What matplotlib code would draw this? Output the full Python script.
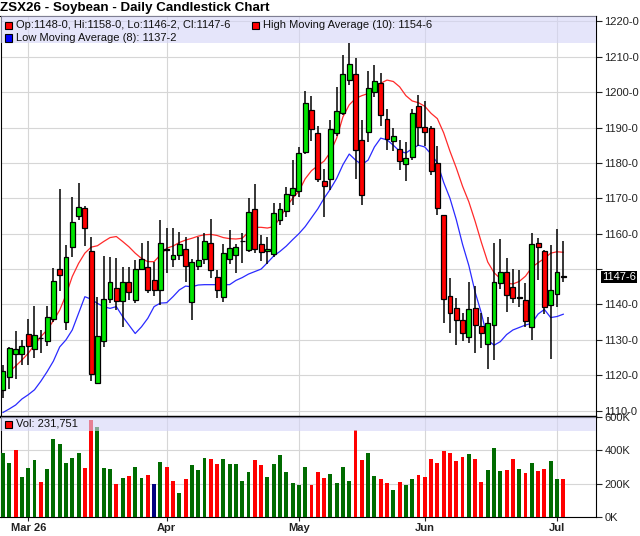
import numpy as np
import pandas as pd
import matplotlib
matplotlib.use("Agg")
import matplotlib.pyplot as plt
from matplotlib.patches import Rectangle
from matplotlib.transforms import blended_transform_factory

plt.rcParams["font.family"] = ["Liberation Sans", "DejaVu Sans"]

# ---- data --------------------------------------------------------------------
title = "ZSX26 - Soybean - Daily Candlestick Chart"
first_day = "2026-02-24"
last_day = "2026-07-02"
holidays = ["2026-04-03", "2026-05-25", "2026-06-19"]

opens = [1115.8, 1119.6, 1125.9, 1126.0, 1131.8, 1127.3, 1130.6, 1129.7, 1135.9, 1150.0,
         1135.1, 1156.2, 1165.0, 1167.2, 1155.1, 1117.7, 1129.8, 1141.5, 1144.6, 1141.0,
         1146.3, 1141.3, 1150.0, 1150.7, 1146.9, 1144.1, 1155.5, 1152.8, 1154.0, 1155.6,
         1140.8, 1150.9, 1152.8, 1157.3, 1147.7, 1142.2, 1152.8, 1154.0, 1157.8, 1155.4,
         1166.9, 1157.0, 1155.1, 1154.2, 1163.9, 1166.3, 1170.8, 1172.0, 1183.0, 1195.0,
         1188.4, 1174.8, 1175.4, 1188.4, 1194.0, 1203.4, 1205.0, 1186.5, 1188.7, 1200.0,
         1202.5, 1192.3, 1186.2, 1183.9, 1179.8, 1181.7, 1196.0, 1190.1, 1189.8, 1180.0,
         1165.4, 1142.4, 1139.1, 1135.5, 1130.9, 1139.0, 1133.9, 1128.9, 1134.3, 1146.2,
         1149.3, 1145.0, 1141.9, 1141.2, 1133.5, 1157.5, 1155.1, 1139.8, 1143.1, 1148.0]
highs = [1123.0, 1127.9, 1132.5, 1130.0, 1135.9, 1139.6, 1132.8, 1139.6, 1150.4, 1172.6,
         1156.8, 1170.5, 1174.2, 1167.8, 1159.2, 1142.2, 1153.7, 1153.5, 1153.0, 1150.7,
         1150.7, 1152.6, 1157.3, 1157.9, 1152.1, 1163.9, 1161.5, 1161.5, 1160.6, 1159.2,
         1152.8, 1159.2, 1160.1, 1164.1, 1149.7, 1157.1, 1161.1, 1157.1, 1160.3, 1170.0,
         1174.0, 1159.6, 1159.2, 1168.6, 1168.6, 1173.3, 1180.7, 1184.5, 1200.4, 1198.9,
         1190.5, 1178.3, 1192.0, 1201.4, 1210.5, 1214.0, 1209.5, 1192.2, 1206.1, 1207.7,
         1205.5, 1195.2, 1189.8, 1186.6, 1185.9, 1195.2, 1199.2, 1197.4, 1190.5, 1184.9,
         1165.4, 1147.4, 1141.9, 1137.7, 1146.3, 1145.2, 1137.7, 1136.6, 1157.5, 1158.4,
         1153.0, 1149.9, 1149.7, 1146.2, 1160.3, 1158.9, 1155.5, 1156.7, 1161.4, 1158.0]
lows = [1113.7, 1116.1, 1118.9, 1122.9, 1122.9, 1124.8, 1126.2, 1128.4, 1135.1, 1143.9,
        1132.8, 1153.5, 1163.9, 1156.5, 1118.5, 1117.7, 1127.9, 1140.3, 1138.4, 1133.7,
        1141.3, 1140.5, 1149.7, 1143.3, 1142.4, 1139.9, 1149.0, 1150.7, 1152.6, 1146.4,
        1135.6, 1149.7, 1151.4, 1147.4, 1141.7, 1140.8, 1151.4, 1148.8, 1151.8, 1154.9,
        1154.5, 1152.4, 1151.3, 1153.5, 1162.5, 1164.8, 1168.0, 1170.5, 1182.5, 1186.3,
        1174.5, 1164.6, 1172.3, 1187.7, 1193.5, 1202.0, 1175.4, 1168.0, 1186.0, 1198.7,
        1190.3, 1183.7, 1183.5, 1177.9, 1174.8, 1180.7, 1184.7, 1184.7, 1176.5, 1165.4,
        1134.9, 1131.9, 1128.6, 1129.7, 1129.2, 1126.4, 1127.8, 1121.9, 1124.3, 1144.5,
        1137.9, 1140.5, 1139.4, 1133.5, 1130.0, 1147.0, 1137.2, 1124.7, 1139.3, 1146.25]
closes = [1121.2, 1127.6, 1127.3, 1128.3, 1128.4, 1131.4, 1130.5, 1136.4, 1146.6, 1148.2,
          1153.3, 1163.2, 1167.5, 1161.5, 1120.5, 1131.1, 1141.5, 1146.3, 1141.0, 1146.3,
          1143.6, 1150.0, 1152.8, 1144.1, 1144.1, 1157.3, 1155.5, 1154.0, 1157.1, 1150.9,
          1151.9, 1152.6, 1157.8, 1149.7, 1144.1, 1154.5, 1155.9, 1156.3, 1157.8, 1166.2,
          1155.8, 1154.9, 1155.6, 1165.8, 1166.9, 1171.2, 1172.9, 1182.8, 1196.9, 1189.5,
          1175.4, 1173.4, 1189.6, 1194.7, 1205.0, 1207.8, 1183.7, 1170.8, 1201.1, 1203.0,
          1193.6, 1186.7, 1187.7, 1180.5, 1181.4, 1194.1, 1190.1, 1188.7, 1177.8, 1167.3,
          1141.6, 1137.5, 1135.5, 1132.0, 1138.6, 1134.1, 1132.0, 1134.9, 1146.4, 1149.3,
          1142.7, 1141.7, 1141.9, 1135.2, 1157.2, 1156.3, 1139.3, 1144.0, 1149.3, 1147.75]

high_ma = [np.nan, 1121.0, 1122.6, 1124.3, 1126.2, 1128.6, 1130.9, 1132.8, 1135.4, 1138.4,
           1142.7, 1147.9, 1151.6, 1154.5, 1156.2, 1156.6, 1157.8, 1158.9, 1159.2, 1157.8,
           1156.3, 1154.5, 1153.0, 1152.1, 1152.1, 1154.0, 1155.9, 1156.5, 1157.5, 1158.2,
           1158.7, 1159.3, 1159.7, 1159.8, 1159.5, 1158.9, 1158.6, 1158.5, 1158.7, 1160.5,
           1161.8, 1161.8, 1161.6, 1162.0, 1164.4, 1167.5, 1170.0, 1172.0, 1175.5, 1177.8,
           1179.2, 1180.5, 1183.0, 1187.0, 1193.0, 1196.4, 1198.2, 1199.0, 1199.6, 1200.5,
           1202.5, 1203.4, 1203.0, 1201.5, 1199.0, 1197.5, 1197.0, 1196.0, 1194.0, 1192.5,
           1188.5, 1183.3, 1178.6, 1173.4, 1169.0, 1163.5, 1157.5, 1152.0, 1149.0, 1147.3,
           1146.0, 1145.8, 1146.5, 1148.0, 1150.5, 1151.8, 1153.0, 1154.5, 1154.9, 1154.75]
low_ma = [1109.5, 1110.5, 1111.6, 1113.3, 1114.5, 1115.9, 1118.3, 1121.0, 1124.0, 1128.0,
          1130.0, 1132.8, 1137.5, 1142.2, 1141.5, 1140.3, 1139.4, 1138.9, 1139.4, 1136.6,
          1134.2, 1131.8, 1133.7, 1136.1, 1139.4, 1140.4, 1140.5, 1142.2, 1144.1, 1145.2,
          1145.0, 1145.5, 1145.6, 1145.6, 1145.6, 1145.6, 1145.6, 1146.8, 1147.6, 1148.6,
          1149.3, 1150.0, 1151.8, 1153.7, 1155.0, 1156.5, 1158.3, 1160.0, 1162.0, 1164.5,
          1167.0, 1170.0, 1172.6, 1175.6, 1179.5, 1182.5, 1180.8, 1179.5, 1180.8, 1184.5,
          1187.0, 1186.5, 1185.0, 1183.3, 1182.8, 1184.0, 1185.0, 1184.5, 1182.5, 1180.0,
          1174.5, 1170.0, 1164.0, 1157.0, 1151.0, 1143.5, 1137.5, 1130.0, 1128.5, 1129.5,
          1131.5, 1132.8, 1133.5, 1134.2, 1134.7, 1137.3, 1138.6, 1136.3, 1136.6, 1137.25]

volumes = [385, 326, 401, 242, 294, 342, 213, 288, 467, 439,
           326, 356, 385, 294, 580, 540, 294, 288, 199, 234,
           246, 300, 234, 252, 199, 330, 300, 218, 147, 228,
           312, 282, 354, 348, 320, 348, 320, 320, 218, 270,
           342, 312, 240, 320, 372, 272, 207, 193, 300, 193,
           270, 234, 258, 205, 300, 216, 521, 342, 383, 246,
           228, 205, 163, 211, 193, 228, 252, 240, 348, 324,
           395, 383, 336, 360, 377, 348, 211, 282, 413, 276,
           282, 348, 288, 264, 324, 276, 288, 336, 228, 231.751]  # thousands
# u = close up on the day, d = down, n = unchanged
vol_dir = list("uuduuuduuu" "uuudduuudu" "duudnuddud" "uuudduuuuu" "dduuuuuuud"
               "dduuuudduu" "dduduudddd" "ddddudduuu" "ddududduud")

# ---- helpers -------------------------------------------------------------------
W, H = 640, 536


def fx(px):
    return px / W


def fy(py):
    return 1 - py / H


def fmt_price(p):
    whole = int(np.floor(p + 1e-9))
    eighths = int(round((p - whole) * 8))
    if eighths == 8:
        whole, eighths = whole + 1, 0
    return f"{whole}-{eighths}"


days = pd.bdate_range(first_day, last_day)
days = days[~days.isin(pd.to_datetime(holidays))]
x = np.arange(len(closes))
opens_a, highs_a, lows_a, closes_a = map(np.array, (opens, highs, lows, closes))

month_idx = [i for i in range(1, len(days)) if days[i].month != days[i - 1].month]
month_lbl = [days[i].strftime("%b") for i in month_idx]
month_lbl[0] = days[month_idx[0]].strftime("%b %y")

fig = plt.figure(figsize=(6.4, 5.36), dpi=100)
left, right = 0.5, 596
p_top, split, v_bot = 16, 416.7, 517.3
ax_p = fig.add_axes([fx(left), fy(split), fx(right) - fx(left), (split - p_top) / H])
ax_v = fig.add_axes([fx(left), fy(v_bot), fx(right) - fx(left), (v_bot - split) / H], sharex=ax_p)

grid_c = "#d6d6d6"
up_c, down_c = "#00e600", "#ff0000"

# ---- price panel ---------------------------------------------------------------
ax_p.plot(x, high_ma, color="#ff2a2a", lw=0.9, zorder=2)
ax_p.plot(x, low_ma, color="#2a2aff", lw=0.9, zorder=2)
ax_p.vlines(x, lows_a, highs_a, color="black", lw=1.1, zorder=3)
body_lo = np.minimum(opens_a, closes_a)
body_h = np.maximum(np.abs(closes_a - opens_a), 0.12)
body_c = [up_c if c > o else (down_c if c < o else "black") for o, c in zip(opens, closes)]
ax_p.bar(x, body_h, bottom=body_lo, width=0.78, color=body_c, edgecolor="black",
         linewidth=0.9, zorder=4)

ax_p.set_xlim(-0.4, 94.2)
ax_p.set_ylim(1108.3, 1221.5)
p_ticks = np.arange(1110, 1221, 10)
ax_p.set_yticks(p_ticks)
ax_p.set_yticklabels(["" if abs(t - closes[-1]) < 4 else fmt_price(t) for t in p_ticks])
ax_p.yaxis.tick_right()
ax_p.tick_params(axis="y", length=4, width=0.8, pad=2, labelsize=8, colors="#222222")
ax_p.tick_params(axis="x", length=0, labelbottom=False)
ax_p.set_xticks(month_idx)
ax_p.grid(True, color=grid_c, lw=0.8)
ax_p.set_axisbelow(True)
for s in ax_p.spines.values():
    s.set_linewidth(0.8)
ax_p.spines["bottom"].set_linewidth(1.6)

band_h = (43.3 - p_top) / (split - p_top)
ax_p.add_patch(Rectangle((0, 1 - band_h), 1, band_h, transform=ax_p.transAxes,
                         facecolor="#d5d5f7", alpha=0.6, edgecolor="none", zorder=6))

last_tr = blended_transform_factory(ax_p.transAxes, ax_p.transData)
ax_p.text(1.01, closes[-1], fmt_price(closes[-1]), transform=last_tr, ha="left", va="center",
          fontsize=8, color="white", zorder=10, clip_on=False,
          bbox=dict(boxstyle="square,pad=0.12", fc="black", ec="none"))

# ---- volume panel --------------------------------------------------------------
vol_colors = {"u": "#006b00", "d": "#ff0000", "n": "#000080"}
ax_v.bar(x, np.array(volumes) * 1000, width=0.62, color=[vol_colors[d] for d in vol_dir], zorder=3)
ax_v.set_ylim(0, 601000)
ax_v.set_yticks([0, 200000, 400000, 600000])
ax_v.set_yticklabels(["0K", "200K", "400K", "600K"])
ax_v.yaxis.tick_right()
ax_v.tick_params(axis="y", length=4, width=0.8, pad=2, labelsize=8, colors="#222222")
ax_v.set_xticks(month_idx)
ax_v.set_xticklabels(month_lbl, fontweight="bold")
ax_v.tick_params(axis="x", length=3, width=0.8, pad=1, labelsize=8, colors="#222222")
ax_v.grid(True, color=grid_c, lw=0.8)
ax_v.set_axisbelow(True)
for s in ax_v.spines.values():
    s.set_linewidth(0.8)
ax_v.spines["top"].set_linewidth(1.6)

vband_h = (430.7 - split) / (v_bot - split)
ax_v.add_patch(Rectangle((0, 1 - vband_h), 1, vband_h, transform=ax_v.transAxes,
                         facecolor="#d5d5f7", alpha=0.6, edgecolor="none", zorder=6))

# ---- legends and title -----------------------------------------------------------


def legend_item(px, py, color, label):
    fig.add_artist(Rectangle((fx(px), fy(py + 3.5)), 7 / W, 7 / H, transform=fig.transFigure,
                             facecolor=color, edgecolor="black", linewidth=0.8))
    fig.text(fx(px + 11), fy(py), label, fontsize=8, va="center", ha="left", color="#111111")


legend_item(5, 25, "#ff0000", f"Op:{fmt_price(opens[-1])}, Hi:{fmt_price(highs[-1])}, "
                              f"Lo:{fmt_price(lows[-1])}, Cl:{fmt_price(closes[-1])}")
legend_item(252, 25, "#ff0000", f"High Moving Average (10): {fmt_price(high_ma[-1])}")
legend_item(5, 38, "#0000ff", f"Low Moving Average (8): {fmt_price(low_ma[-1])}")
legend_item(5, 424, "#ff0000", f"Vol: {int(round(volumes[-1] * 1000)):,}")

fig.text(fx(0), fy(8), title, fontsize=9.6, fontweight="bold", va="center", ha="left")

fig.savefig("out.png", dpi=100)
